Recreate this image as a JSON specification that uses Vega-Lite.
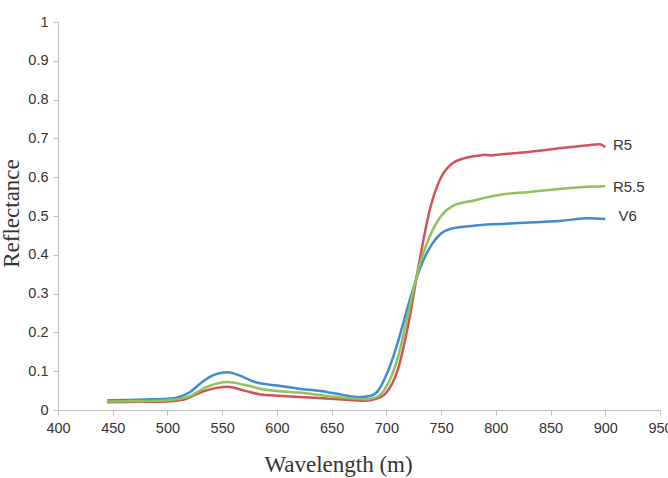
{
  "$schema": "https://vega.github.io/schema/vega-lite/v6.json",
  "width": 602,
  "height": 388,
  "autosize": {"type": "none"},
  "padding": {"left": 58, "top": 22, "right": 8, "bottom": 68},
  "background": "white",
  "config": {"view": {"stroke": null}},
  "datasets": {
    "spectra": [
      {"series": "V6", "wl": 445, "r": 0.025}, {"series": "V6", "wl": 480, "r": 0.027}, {"series": "V6", "wl": 500, "r": 0.029}, {"series": "V6", "wl": 510, "r": 0.033}, {"series": "V6", "wl": 520, "r": 0.045}, {"series": "V6", "wl": 530, "r": 0.068}, {"series": "V6", "wl": 540, "r": 0.087}, {"series": "V6", "wl": 555, "r": 0.097}, {"series": "V6", "wl": 565, "r": 0.09}, {"series": "V6", "wl": 580, "r": 0.072}, {"series": "V6", "wl": 600, "r": 0.063}, {"series": "V6", "wl": 620, "r": 0.055}, {"series": "V6", "wl": 640, "r": 0.049}, {"series": "V6", "wl": 660, "r": 0.039}, {"series": "V6", "wl": 675, "r": 0.033}, {"series": "V6", "wl": 685, "r": 0.036}, {"series": "V6", "wl": 692, "r": 0.048}, {"series": "V6", "wl": 700, "r": 0.09}, {"series": "V6", "wl": 710, "r": 0.17}, {"series": "V6", "wl": 720, "r": 0.27}, {"series": "V6", "wl": 730, "r": 0.36}, {"series": "V6", "wl": 740, "r": 0.42}, {"series": "V6", "wl": 750, "r": 0.455}, {"series": "V6", "wl": 760, "r": 0.468}, {"series": "V6", "wl": 780, "r": 0.475}, {"series": "V6", "wl": 800, "r": 0.479}, {"series": "V6", "wl": 830, "r": 0.483}, {"series": "V6", "wl": 860, "r": 0.488}, {"series": "V6", "wl": 885, "r": 0.494}, {"series": "V6", "wl": 900, "r": 0.492},
      {"series": "R5", "wl": 445, "r": 0.02}, {"series": "R5", "wl": 480, "r": 0.021}, {"series": "R5", "wl": 500, "r": 0.022}, {"series": "R5", "wl": 515, "r": 0.027}, {"series": "R5", "wl": 530, "r": 0.045}, {"series": "R5", "wl": 545, "r": 0.057}, {"series": "R5", "wl": 555, "r": 0.06}, {"series": "R5", "wl": 570, "r": 0.05}, {"series": "R5", "wl": 585, "r": 0.04}, {"series": "R5", "wl": 600, "r": 0.037}, {"series": "R5", "wl": 630, "r": 0.032}, {"series": "R5", "wl": 660, "r": 0.027}, {"series": "R5", "wl": 680, "r": 0.024}, {"series": "R5", "wl": 690, "r": 0.028}, {"series": "R5", "wl": 700, "r": 0.045}, {"series": "R5", "wl": 710, "r": 0.1}, {"series": "R5", "wl": 720, "r": 0.22}, {"series": "R5", "wl": 730, "r": 0.38}, {"series": "R5", "wl": 740, "r": 0.52}, {"series": "R5", "wl": 750, "r": 0.6}, {"series": "R5", "wl": 760, "r": 0.635}, {"series": "R5", "wl": 770, "r": 0.648}, {"series": "R5", "wl": 785, "r": 0.656}, {"series": "R5", "wl": 790, "r": 0.658}, {"series": "R5", "wl": 795, "r": 0.656}, {"series": "R5", "wl": 805, "r": 0.659}, {"series": "R5", "wl": 830, "r": 0.665}, {"series": "R5", "wl": 860, "r": 0.675}, {"series": "R5", "wl": 880, "r": 0.681}, {"series": "R5", "wl": 895, "r": 0.685}, {"series": "R5", "wl": 900, "r": 0.677},
      {"series": "R5.5", "wl": 445, "r": 0.022}, {"series": "R5.5", "wl": 480, "r": 0.023}, {"series": "R5.5", "wl": 500, "r": 0.025}, {"series": "R5.5", "wl": 520, "r": 0.035}, {"series": "R5.5", "wl": 535, "r": 0.058}, {"series": "R5.5", "wl": 555, "r": 0.072}, {"series": "R5.5", "wl": 570, "r": 0.065}, {"series": "R5.5", "wl": 590, "r": 0.052}, {"series": "R5.5", "wl": 620, "r": 0.045}, {"series": "R5.5", "wl": 650, "r": 0.035}, {"series": "R5.5", "wl": 680, "r": 0.028}, {"series": "R5.5", "wl": 690, "r": 0.032}, {"series": "R5.5", "wl": 700, "r": 0.06}, {"series": "R5.5", "wl": 710, "r": 0.13}, {"series": "R5.5", "wl": 720, "r": 0.25}, {"series": "R5.5", "wl": 730, "r": 0.37}, {"series": "R5.5", "wl": 740, "r": 0.45}, {"series": "R5.5", "wl": 750, "r": 0.5}, {"series": "R5.5", "wl": 760, "r": 0.525}, {"series": "R5.5", "wl": 780, "r": 0.54}, {"series": "R5.5", "wl": 800, "r": 0.553}, {"series": "R5.5", "wl": 830, "r": 0.562}, {"series": "R5.5", "wl": 860, "r": 0.57}, {"series": "R5.5", "wl": 880, "r": 0.575}, {"series": "R5.5", "wl": 900, "r": 0.577}
    ],
    "labels": [
      {"series": "R5", "wl": 907, "r": 0.683},
      {"series": "R5.5", "wl": 907, "r": 0.575},
      {"series": "V6", "wl": 912, "r": 0.5}
    ]
  },
  "encoding": {
    "x": {"field": "wl", "type": "quantitative",
      "scale": {"domain": [400, 950], "nice": false},
      "axis": {"values": [400,450,500,550,600,650,700,750,800,850,900,950], "title": "Wavelength (m)", "grid": false, "labelOverlap": false, "labelFlush": false,
        "domainColor": "#c0c0c0", "tickColor": "#c0c0c0", "tickSize": 5, "labelFont": "Liberation Sans", "labelFontSize": 14.5, "labelColor": "#333333", "labelPadding": 6,
        "titleFont": "Liberation Serif", "titleFontSize": 23, "titleFontWeight": "normal", "titleColor": "#333333", "titleX": 280, "titleY": 54, "titleBaseline": "middle"}},
    "y": {"field": "r", "type": "quantitative",
      "scale": {"domain": [0, 1], "nice": false},
      "axis": {"values": [0,0.1,0.2,0.3,0.4,0.5,0.6,0.7,0.8,0.9,1], "format": "~g", "title": "Reflectance", "grid": false, "labelOverlap": false, "labelFlush": false,
        "domainColor": "#c0c0c0", "tickColor": "#c0c0c0", "tickSize": 5, "labelFont": "Liberation Sans", "labelFontSize": 14.5, "labelColor": "#333333", "labelPadding": 5,
        "titleFont": "Liberation Serif", "titleFontSize": 23, "titleFontWeight": "normal", "titleColor": "#333333", "titleX": -47, "titleY": 191, "titleBaseline": "middle", "titleAlign": "center"}}
  },
  "layer": [
    {
      "data": {"name": "spectra"},
      "mark": {"type": "line", "strokeWidth": 2.5, "interpolate": "monotone"},
      "encoding": {
        "color": {"field": "series", "type": "nominal",
          "scale": {"domain": ["R5", "R5.5", "V6"], "range": ["#d2525a", "#8cc35a", "#3f8bd0"]},
          "legend": null}
      }
    },
    {
      "data": {"name": "labels"},
      "mark": {"type": "text", "align": "left", "baseline": "middle", "font": "Liberation Sans", "fontSize": 15, "color": "#333333"},
      "encoding": {
        "text": {"field": "series"}
      }
    }
  ]
}
